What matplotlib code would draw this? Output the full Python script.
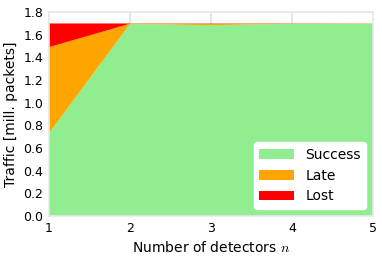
import numpy as np
import matplotlib.pyplot as plt

# traffic per number of detectors (million packets)
detectors = [1, 2, 3, 4, 5]
success = [0.73, 1.695, 1.685, 1.697, 1.698]
late = [0.76, 0.003, 0.012, 0.001, 0.001]
lost = [0.21, 0.002, 0.003, 0.002, 0.001]

plt.rcParams['font.size'] = 9
plt.rcParams['mathtext.fontset'] = 'cm'
fig = plt.figure(figsize=(3.82, 2.58), dpi=100)
ax = fig.add_axes([0.128, 0.163, 0.849, 0.79])

ax.stackplot(detectors, success, late, lost,
             colors=['lightgreen', 'orange', 'red'],
             labels=['Success', 'Late', 'Lost'], zorder=2)

ax.set_xlim(1, 5)
ax.set_ylim(0, 1.8)
ax.set_xticks(detectors)
ax.set_yticks(np.arange(0, 1.81, 0.2))
ax.set_xlabel('Number of detectors $n$', fontsize=10)
ax.set_ylabel('Traffic [mill. packets]', fontsize=10)
ax.grid(True, color='#e0e0e0', linewidth=1.2, zorder=0)
ax.tick_params(length=0, pad=4)
for s in ax.spines.values():
    s.set_color('#e8e8e8')
    s.set_linewidth(1.2)

ax.legend(loc='lower right', fontsize=10, frameon=True, framealpha=1,
          edgecolor='white', handlelength=2.5)

fig.savefig('out.png', dpi=100)
